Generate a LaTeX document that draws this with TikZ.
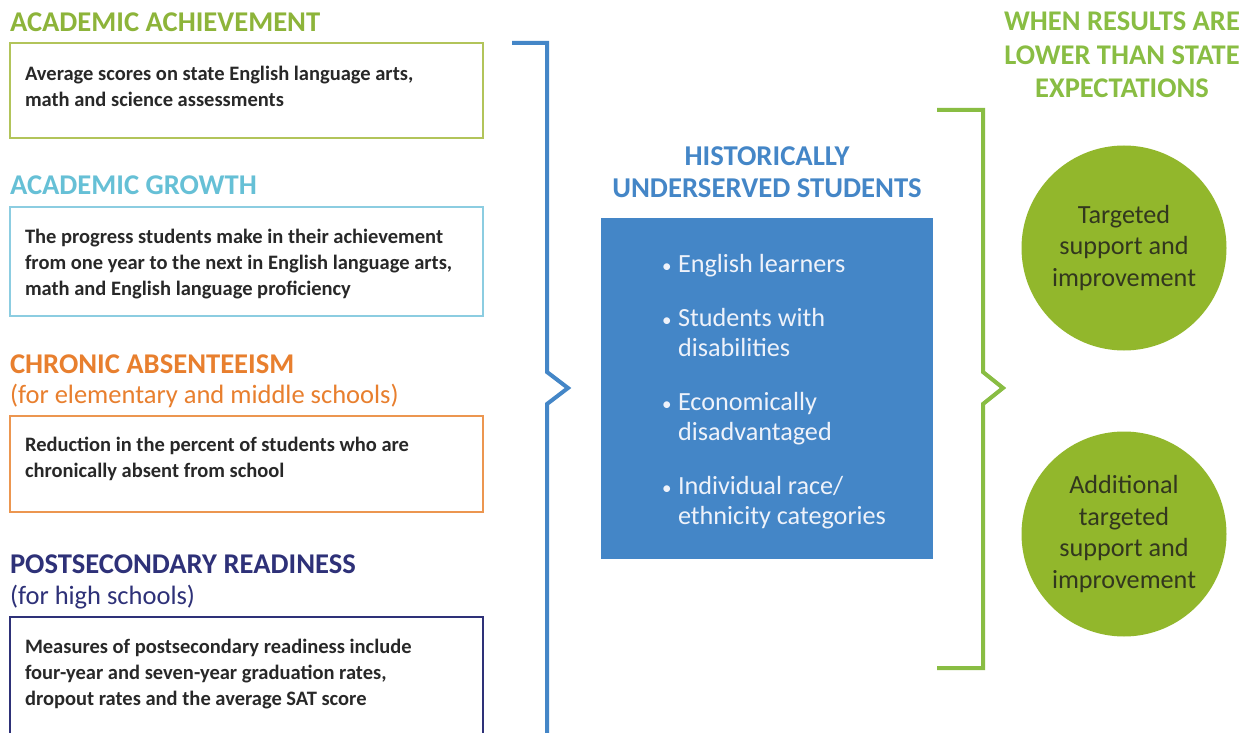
\documentclass[tikz,border=0pt]{standalone}
\usepackage{fontspec}
\setmainfont{Carlito}
\definecolor{achgreen}{RGB}{141,180,58}
\definecolor{achframe}{RGB}{178,196,90}
\definecolor{growblue}{RGB}{102,192,214}
\definecolor{growframe}{RGB}{140,205,225}
\definecolor{absorange}{RGB}{232,127,46}
\definecolor{absframe}{RGB}{236,150,80}
\definecolor{postnavy}{RGB}{46,49,120}
\definecolor{midblue}{RGB}{68,134,199}
\definecolor{brgreen}{RGB}{137,189,67}
\definecolor{circgreen}{RGB}{146,183,44}
\definecolor{bodytext}{RGB}{40,40,40}
\definecolor{circtext}{RGB}{50,55,30}
\definecolor{bullettext}{RGB}{238,242,250}
\newcommand{\blt}{\makebox[16pt][l]{\raisebox{0.5pt}{\fontsize{19}{19}\selectfont\textbullet}}}
\begin{document}
\begin{tikzpicture}[x=1pt,y=-1pt,
  every node/.style={inner sep=0pt,outer sep=0pt},
  head/.style={anchor=base west,font=\fontsize{28.6}{32}\selectfont\bfseries},
  subhead/.style={anchor=base west,font=\fontsize{26.5}{30}\selectfont},
  frame/.style={draw,line width=1.6pt,anchor=north west,minimum width=473pt,fill=white},
  body/.style={anchor=north west,align=left,text=bodytext,font=\fontsize{20.5}{26}\selectfont\bfseries},
  bracket/.style={line width=4pt,line join=miter},
  circ/.style={circle,fill=circgreen,minimum size=205pt,align=center,text=circtext,font=\fontsize{26.2}{31.5}\selectfont}]
\useasboundingbox (0,0) rectangle (1251,733);
\clip (0,0) rectangle (1251,733);
\fill[white] (0,0) rectangle (1251,733);

% left column
\node[head,text=achgreen] (h1) at (10,32) {ACADEMIC ACHIEVEMENT};
\node[frame,draw=achframe,minimum height=95pt] (b1) at (10,43) {};
\node[body] (t1) at (25,66.5) {Average scores on state English language arts,\\math and science assessments};

\node[head,text=growblue] (h2) at (10,195) {ACADEMIC GROWTH};
\node[frame,draw=growframe,minimum height=109pt] (b2) at (10,207) {};
\node[body] (t2) at (25,229.5) {The progress students make in their achievement\\from one year to the next in English language arts,\\math and English language proficiency};

\node[head,text=absorange] (h3) at (10,373) {CHRONIC ABSENTEEISM};
\node[subhead,text=absorange] (s3) at (10,403) {(for elementary and middle schools)};
\node[frame,draw=absframe,minimum height=96pt] (b3) at (10,416) {};
\node[body] (t3) at (25,437.5) {Reduction in the percent of students who are\\chronically absent from school};

\node[head,text=postnavy] (h4) at (10,573) {POSTSECONDARY READINESS};
\node[subhead,text=postnavy] (s4) at (10,604) {(for high schools)};
\node[frame,draw=postnavy,minimum height=130pt] (b4) at (10,617) {};
\node[body] (t4) at (25,639.5) {Measures of postsecondary readiness include\\four-year and seven-year graduation rates,\\dropout rates and the average SAT score};

% blue bracket
\coordinate (bt) at (512,43);
\coordinate (bb) at (547,745);
\draw[bracket,midblue] (bt) -- (547,43) -- (547,372) -- (568,388) -- (547,404) -- (bb);

% center
\node[align=center,text=midblue,font=\fontsize{28.7}{32}\selectfont\bfseries] (ch) at (767,172) {HISTORICALLY\\UNDERSERVED STUDENTS};
\fill[midblue] (601,218) rectangle (933,559);
\node[anchor=north west,align=left,text=bullettext,font=\fontsize{26.2}{30}\selectfont] (bl) at (662,254.5)
 {\blt English learners\\[24pt]
  \blt Students with\\
  \hspace*{16pt}disabilities\\[24pt]
  \blt Economically\\
  \hspace*{16pt}disadvantaged\\[24pt]
  \blt Individual race/\\
  \hspace*{16pt}ethnicity categories};

% green bracket
\coordinate (gt) at (937,110);
\coordinate (gb) at (937,668);
\draw[bracket,brgreen] (gt) -- (983,110) -- (983,372) -- (1003,388) -- (983,404) -- (983,668) -- (gb);

% right column
\node[align=center,text=brgreen,font=\fontsize{28.5}{33.5}\selectfont\bfseries] (rh) at (1122,55) {WHEN RESULTS ARE\\LOWER THAN STATE\\EXPECTATIONS};
\node[circ] (c1) at (1124,248) {Targeted\\support and\\improvement};
\node[circ] (c2) at (1124,534) {Additional\\targeted\\support and\\improvement};
\end{tikzpicture}
\end{document}
